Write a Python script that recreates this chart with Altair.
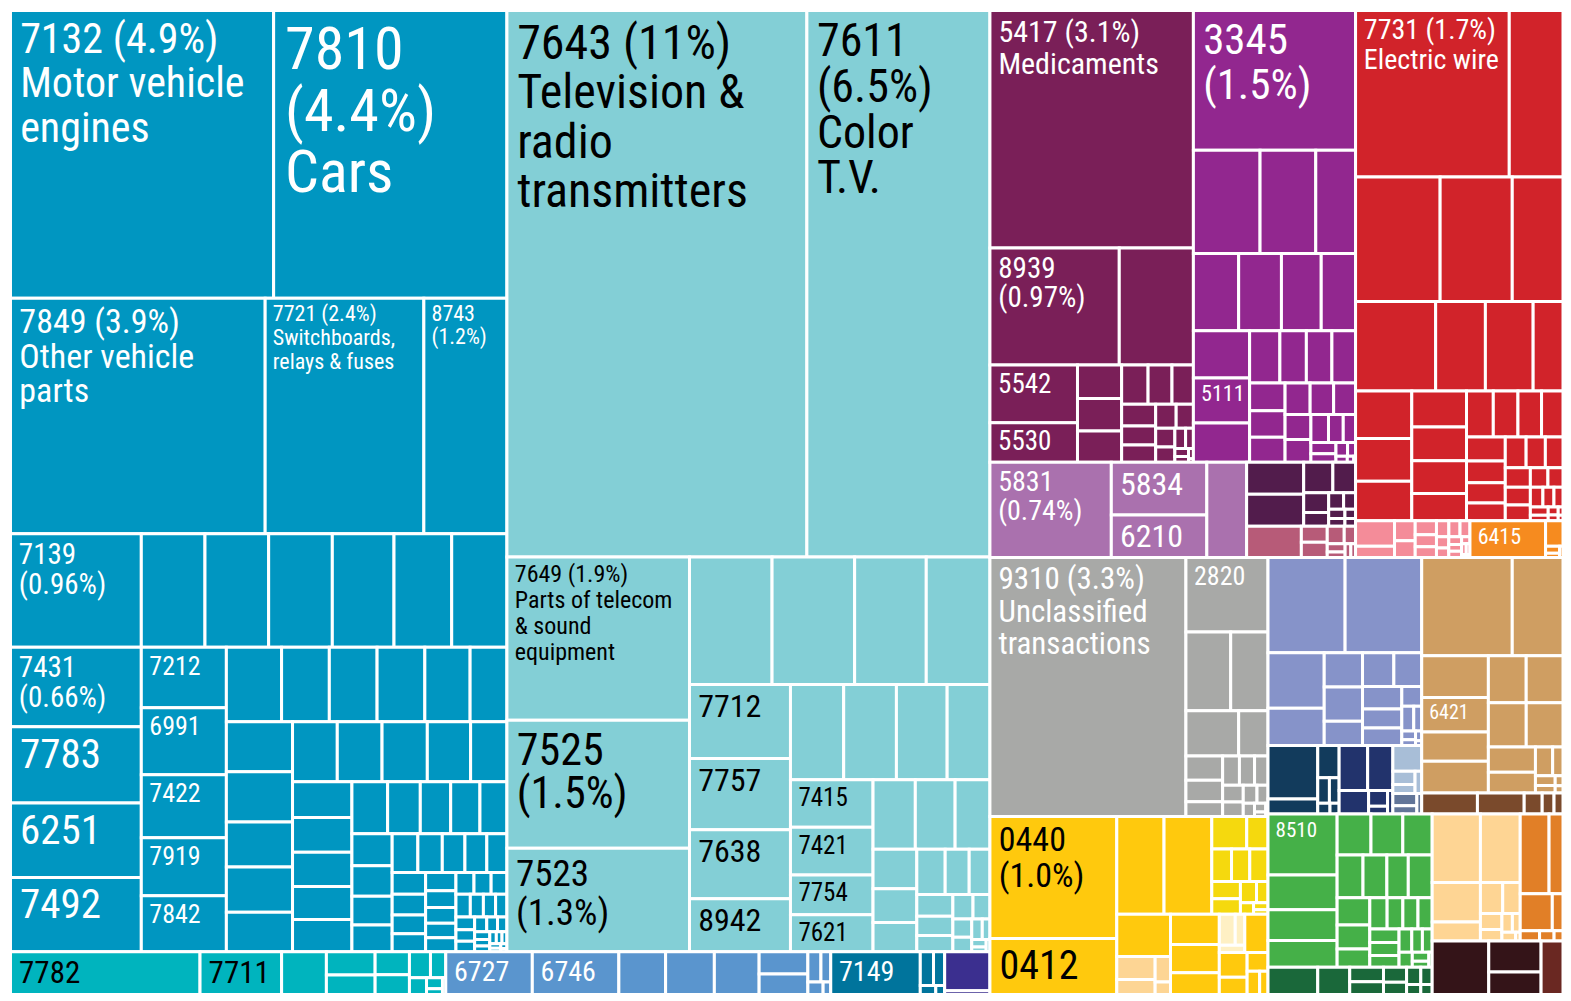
import altair as alt
import pandas as pd

FONT = "Roboto Condensed, DejaVu Sans Condensed, sans-serif"
WHITE, BLACK = "#FFFFFF", "#000000"

# ---------------- data (areas of each product) ----------------
# Machinery & transport (blue)
MACH_ROWS = [[76705, 68005], [60800, 37880, 19830], [15057, 7328, 7328, 7328, 7099, 6641, 6355],
             [10520, 10125, 9862, 9862], [5215, 5771, 5429, 5002, 4831],
             [4162, 3600, 3600, 3600, 3412, 2775], [3358, 3358, 3026, 3026, 2660],
             [2722, 2722, 2753, 2632, 2208]]
MACH_DIRS = "hhhvvhvh"
MACH_TAIL = [2150, 2100, 2050, 1988, 1950, 1880, 1720, 1600, 1540, 1420, 1310, 1240, 1180, 1090,
             1010, 960, 890, 860, 790, 740, 700, 640, 610, 560, 520, 480, 450, 430, 400, 380, 350,
             330, 300, 280, 260, 240, 220, 200, 180, 160, 140, 120, 100, 90, 80, 70, 60, 50, 40, 30, 20]
MACH_LABELS = [(0, "7132 (4.9%)\nMotor vehicle\nengines", 42, 45), (1, "7810\n(4.4%)\nCars", 60, 62),
               (2, "7849 (3.9%)\nOther vehicle\nparts", 34, 35),
               (3, "7721 (2.4%)\nSwitchboards,\nrelays & fuses", 22, 24), (4, "8743\n(1.2%)", 22, 23),
               (5, "7139\n(0.96%)", 29, 30), (12, "7431\n(0.66%)", 29, 30), (13, "7783", 41, 41),
               (14, "6251", 41, 41), (15, "7492", 41, 41), (16, "7212", 26, 26), (17, "6991", 26, 26),
               (18, "7422", 26, 26), (19, "7919", 26, 26), (20, "7842", 26, 26)]

# Electronics (light cyan)
ELEC_ROWS = [[166126, 101384], [30186, 23672, 19176], [10666, 10666, 9252, 8224],
             [7562, 7308, 7054, 5430], [5136, 5088, 4896, 4128], [3984, 3984, 3320, 3112],
             [2975, 2800, 2450], [1760, 1496, 1298]]
ELEC_DIRS = "hvhvhvhv"
ELEC_TAIL = [1300, 1100, 950, 800, 700, 600, 500, 420, 350, 280, 220, 160, 110, 70, 47]
ELEC_LABELS = [(0, "7643 (11%)\nTelevision &\nradio\ntransmitters", 48, 50),
               (1, "7611\n(6.5%)\nColor\nT.V.", 46, 46),
               (2, "7649 (1.9%)\nParts of telecom\n& sound\nequipment", 24, 26),
               (3, "7525\n(1.5%)", 44, 44), (4, "7523\n(1.3%)", 37, 40),
               (9, "7712", 32, 32), (10, "7757", 32, 32), (11, "7638", 32, 32), (12, "8942", 32, 32),
               (17, "7415", 25, 26), (18, "7421", 25, 26), (19, "7754", 25, 26), (20, "7621", 25, 26)]

# bottom strip
TEAL_ROWS, TEAL_DIRS = [[8287], [3567], [1958]], "vvv"
TEAL_TAIL = [1150, 981, 800, 700, 550, 400, 300, 180, 100, 58]
TEAL_LABELS = [(0, "7782", 31, 31), (1, "7711", 31, 31)]
STEEL_ROWS, STEEL_DIRS = [[3784], [3784], [2044], [2131], [1958]], "vvvvv"
STEEL_TAIL = [1100, 1031, 400, 300, 200, 100]
STEEL_LABELS = [(0, "6727", 28, 28), (1, "6746", 28, 28)]
DTEAL_ROWS, DTEAL_DIRS, DTEAL_TAIL = [[3915]], "v", [450, 380, 150, 86]
DTEAL_LABELS = [(0, "7149", 28, 28)]
INDIGO_ROWS, INDIGO_DIRS, INDIGO_TAIL = [[1790]], "h", [189]

# chemicals
MEDIC_ROWS, MEDIC_DIRS = [[48978], [15340, 8791], [5104, 3520]], "hhv"
MEDIC_TAIL = [1500, 1450, 1400, 1050, 950, 850, 750, 650, 600, 500, 420, 360, 300, 220, 160, 110, 80, 50, 17]
MEDIC_LABELS = [(0, "5417 (3.1%)\nMedicaments", 30, 33), (1, "8939\n(0.97%)", 29, 29),
                (3, "5542", 27, 27), (4, "5530", 27, 27)]
PURPLE_ROWS = [[22983], [6968, 5824, 4160], [3549, 3354, 3120, 2691], [2684, 2571, 2232]]
PURPLE_DIRS = "hhhv"
PURPLE_TAIL = [1600, 1400, 1350, 1250, 1000, 950, 900, 800, 750, 700, 650, 600, 500, 420, 350,
               280, 220, 160, 110, 70, 40, 11]
PURPLE_LABELS = [(0, "3345\n(1.5%)", 43, 46), (9, "5111", 22, 22)]
LAV_ROWS, LAV_DIRS, LAV_TAIL = [[11712], [5088, 4128]], "vv", [3840]
LAV_LABELS = [(0, "5831\n(0.74%)", 28, 29), (1, "5834", 32, 32), (2, "6210", 32, 32)]
DPURP_TAIL = [1850, 1850, 900, 700, 500, 350, 250, 200, 150, 130, 100, 83]
MAUVE_TAIL = [1733, 420, 400, 300, 200, 150, 100, 80, 66]

# metals (red) and neighbours
RED_ROWS = [[25956, 9072], [10668, 9099, 6400], [7245, 4500, 4320, 2700], [2712, 2430, 2260],
            [2008, 1870, 1815, 1512]]
RED_DIRS = "hhhvv"
RED_TAIL = [1250, 1150, 1100, 1000, 950, 850, 800, 700, 650, 600, 550, 500, 450, 400, 350, 300,
            250, 220, 180, 150, 100, 80, 60, 40, 27]
RED_LABELS = [(0, "7731 (1.7%)\nElectric wire", 28, 30)]
PINK_TAIL = [999, 450, 420, 350, 300, 260, 230, 200, 180, 160, 140, 120, 100, 90, 80, 60, 50, 40, 26]
ORANGE_TAIL = [2812, 450, 100, 60, 38]
ORANGE_LABELS = [(0, "6415", 22, 22)]

# unclassified (gray)
GRAY_ROWS, GRAY_DIRS = [[51417], [6188], [3578, 2981], [2412, 1342]], "vhhh"
GRAY_TAIL = [900, 800, 550, 500, 450, 400, 350, 300, 250, 200, 150, 100, 50, 30]
GRAY_LABELS = [(0, "9310 (3.3%)\nUnclassified\ntransactions", 31, 33), (1, "2820", 26, 26)]

# food (yellow shades)
YELLOW_HEAD = [[15683, 7268], [4679, 4728]]
LY_TAIL = [1150, 700, 650, 600, 600, 500, 450, 350, 250, 150, 100, 65]
PEACHY_TAIL = [900, 600, 400, 200]
PALE_TAIL = [500, 300, 188]
YELLOW_TAIL_A = [2300]
YELLOW_TAIL_B = [1500, 1400, 1100]
YELLOW_TAIL_C = [900, 700, 500, 400, 300, 200]
YELLOW_LABELS = [(0, "0440\n(1.0%)", 34, 36), (1, "0412", 40, 40)]

# misc manufactures, textiles, wood, agriculture
VIOLET_ROWS = [[7440, 7392], [3164, 2119], [1328, 1328, 943], [1071, 952]]
VIOLET_DIRS = "hvvh"
VIOLET_TAIL = [900, 750, 700, 400, 300, 200, 120, 80, 60, 30]
DNAVY_TAIL = [2700, 750, 700, 300, 250, 134, 100]
NAVY_TAIL = [1300, 1150, 700, 300, 150, 126]
LSTEEL_TAIL = [750, 300, 200, 150]
SLATE_TAIL = [300, 200, 101]
TAN_ROWS, TAN_DIRS = [[9009, 5049], [2814, 2345, 1977, 2144]], "hv"
TAN_TAIL = [1800, 1750, 1700, 1650, 1200, 1000, 500, 300, 200, 150, 80, 58]
TAN_LABELS = [(3, "6421", 20, 20)]
BROWN_TAIL = [1176, 987, 380, 250, 189]
BGREEN_ROWS = [[4274, 2432, 2155, 1877], [1411, 1328, 1224], [1118, 1032, 925, 1032]]
BGREEN_DIRS = "vhh"
BGREEN_TAIL = [900, 800, 600, 550, 500, 480, 450, 400, 380, 350, 300, 250, 230, 200, 150, 100, 50]
BGREEN_LABELS = [(0, "8510", 21, 21)]
DGREEN_TAIL = [1400, 900, 500, 450, 350, 300, 250, 200, 150, 120]
PEACH_ROWS, PEACH_DIRS = [[3347, 2760], [1940, 922]], "hv"
PEACH_TAIL = [700, 550, 350, 250, 200, 150, 120, 40]
ORANGE2_ROWS, ORANGE2_DIRS, ORANGE2_TAIL = [[2335, 1127]], "h", [1200, 400, 200, 150, 92]
MAROON_TAIL = [3100, 1650, 1217]
REDBROWN_TAIL = [1200]


# ---------------- structure ----------------
def grp(color, rows=(), dirs="", tail=(), labels=(), text=WHITE):
    return {"color": color, "rows": [list(r) for r in rows], "dirs": dirs, "tail": list(tail),
            "labels": {i: (t, s, lh) for i, t, s, lh in labels}, "text": text}


def split(d, *kids):
    return {"dir": d, "kids": list(kids)}


MACH = grp("#0096C1", MACH_ROWS, MACH_DIRS, MACH_TAIL, MACH_LABELS)
ELEC = grp("#83CFD6", ELEC_ROWS, ELEC_DIRS, ELEC_TAIL, ELEC_LABELS, BLACK)
TEAL = grp("#00B4BE", TEAL_ROWS, TEAL_DIRS, TEAL_TAIL, TEAL_LABELS, BLACK)
STEEL = grp("#5A95CE", STEEL_ROWS, STEEL_DIRS, STEEL_TAIL, STEEL_LABELS)
DTEAL = grp("#00749C", DTEAL_ROWS, DTEAL_DIRS, DTEAL_TAIL, DTEAL_LABELS)
INDIGO = grp("#3B2F8F", INDIGO_ROWS, INDIGO_DIRS, INDIGO_TAIL)
MEDIC = grp("#7A1F58", MEDIC_ROWS, MEDIC_DIRS, MEDIC_TAIL, MEDIC_LABELS)
PURPLE = grp("#92278F", PURPLE_ROWS, PURPLE_DIRS, PURPLE_TAIL, PURPLE_LABELS)
LAV = grp("#AA71AE", LAV_ROWS, LAV_DIRS, LAV_TAIL, LAV_LABELS)
DPURP = grp("#521C4C", tail=DPURP_TAIL)
MAUVE = grp("#B75B78", tail=MAUVE_TAIL)
RED = grp("#D1232A", RED_ROWS, RED_DIRS, RED_TAIL, RED_LABELS)
PINK = grp("#F48C99", tail=PINK_TAIL)
ORANGE = grp("#F68B1F", tail=ORANGE_TAIL, labels=ORANGE_LABELS)
GRAY = grp("#A8A9A7", GRAY_ROWS, GRAY_DIRS, GRAY_TAIL, GRAY_LABELS)
LY = grp("#F5D90E", tail=LY_TAIL)
PEACHY = grp("#FDD594", tail=PEACHY_TAIL)
PALE = grp("#FEF0C4", tail=PALE_TAIL)
YELLOW = grp("#FFC90D", [YELLOW_HEAD[0], YELLOW_HEAD[1] + [LY]], "vh",
             YELLOW_TAIL_A + [PEACHY] + YELLOW_TAIL_B + [PALE] + YELLOW_TAIL_C, YELLOW_LABELS, BLACK)
VIOLET = grp("#8693C9", VIOLET_ROWS, VIOLET_DIRS, VIOLET_TAIL)
DNAVY = grp("#123B5C", tail=DNAVY_TAIL)
NAVY = grp("#22336C", tail=NAVY_TAIL)
LSTEEL = grp("#A8BED7", tail=LSTEEL_TAIL)
SLATE = grp("#627598", tail=SLATE_TAIL)
TAN = grp("#CF9E62", TAN_ROWS, TAN_DIRS, TAN_TAIL, TAN_LABELS)
BROWN = grp("#7A4A2C", tail=BROWN_TAIL)
BGREEN = grp("#45B048", BGREEN_ROWS, BGREEN_DIRS, BGREEN_TAIL, BGREEN_LABELS)
DGREEN = grp("#1A683A", tail=DGREEN_TAIL)
PEACH = grp("#FED594", PEACH_ROWS, PEACH_DIRS, PEACH_TAIL)
ORANGE2 = grp("#E17F27", ORANGE2_ROWS, ORANGE2_DIRS, ORANGE2_TAIL)
MAROON = grp("#341418", tail=MAROON_TAIL + [grp("#6A2822", tail=REDBROWN_TAIL)])

ROOT = split("h",
             split("v", split("h", MACH, ELEC), split("h", TEAL, STEEL, DTEAL, INDIGO)),
             split("v",
                   split("h",
                         split("v", split("h", MEDIC, PURPLE),
                               split("h", LAV, split("v", DPURP, MAUVE))),
                         split("v", RED, split("h", PINK, ORANGE))),
                   split("h",
                         split("v", GRAY, YELLOW),
                         split("v",
                               split("h",
                                     split("v", VIOLET, split("h", DNAVY, NAVY, split("v", LSTEEL, SLATE))),
                                     split("v", TAN, BROWN)),
                               split("h",
                                     split("v", BGREEN, DGREEN),
                                     split("v", split("h", PEACH, ORANGE2), MAROON))))))

# ---------------- layout (d3-style squarified treemap) ----------------
PHI = (1 + 5 ** 0.5) / 2


def total(n):
    if isinstance(n, (int, float)):
        return float(n)
    if "kids" in n:
        return sum(total(k) for k in n["kids"])
    return sum(total(v) for r in n["rows"] for v in r) + sum(total(v) for v in n["tail"])


def squarify(items, x0, y0, x1, y1):
    out = []
    vals = [total(v) for v in items]
    value = sum(vals)
    i0, n = 0, len(vals)
    while i0 < n:
        dx, dy = x1 - x0, y1 - y0
        i1 = i0
        s = vals[i1]
        i1 += 1
        mn = mx = s
        alpha = max(dy / dx, dx / dy) / (value * PHI)
        beta = s * s * alpha
        min_ratio = max(mx / beta, beta / mn)
        while i1 < n:
            v = vals[i1]
            s += v
            mn, mx = min(mn, v), max(mx, v)
            beta = s * s * alpha
            nr = max(mx / beta, beta / mn)
            if nr > min_ratio:
                s -= v
                break
            min_ratio = nr
            i1 += 1
        if dx < dy:
            yb = y0 + dy * s / value
            xc = x0
            for k in range(i0, i1):
                w = dx * vals[k] / s
                out.append((items[k], (xc, y0, xc + w, yb)))
                xc += w
            y0 = yb
        else:
            xb = x0 + dx * s / value
            yc = y0
            for k in range(i0, i1):
                h = dy * vals[k] / s
                out.append((items[k], (x0, yc, xb, yc + h)))
                yc += h
            x0 = xb
        value -= s
        i0 = i1
    return out


def layout_group(g, x0, y0, x1, y1):
    remaining = total(g)
    out = []
    for row, d in zip(g["rows"], g["dirs"]):
        s = sum(total(v) for v in row)
        dx, dy = x1 - x0, y1 - y0
        if d == "h":
            yb = y0 + dy * s / remaining
            xc = x0
            for v in row:
                w = dx * total(v) / s
                out.append((v, (xc, y0, xc + w, yb)))
                xc += w
            y0 = yb
        else:
            xb = x0 + dx * s / remaining
            yc = y0
            for v in row:
                h = dy * total(v) / s
                out.append((v, (x0, yc, xb, yc + h)))
                yc += h
            x0 = xb
        remaining -= s
    if g["tail"]:
        out += squarify(g["tail"], x0, y0, x1, y1)
    return out


rects, texts = [], []


def place(n, x0, y0, x1, y1):
    if "kids" in n:
        tot = total(n)
        pos = x0 if n["dir"] == "h" else y0
        for k in n["kids"]:
            f = total(k) / tot
            if n["dir"] == "h":
                w = (x1 - x0) * f
                place(k, pos, y0, pos + w, y1)
                pos += w
            else:
                h = (y1 - y0) * f
                place(k, x0, pos, x1, pos + h)
                pos += h
        return
    for idx, (item, r) in enumerate(layout_group(n, x0, y0, x1, y1)):
        if isinstance(item, dict):
            place(item, *r)
        else:
            rects.append({"x0": r[0], "y0": r[1], "x1": r[2], "y1": r[3], "fill": n["color"]})
        if idx in n["labels"]:
            txt, size, lh = n["labels"][idx]
            tx = r[0] + 1.5 + 4 + 0.1 * size
            ty = r[1] + 2.5 + 0.16 * size
            for i, line in enumerate(txt.split("\n")):
                texts.append({"tx": tx, "ty": ty + i * lh, "line": line, "fs": size, "tc": n["text"]})


place(ROOT, 10.5, 10.5, 1571, 1003)

rdf = pd.DataFrame(rects)
tdf = pd.DataFrame(texts)

xs = alt.Scale(domain=[8, 1571], nice=False, zero=False)
ys = alt.Scale(domain=[8, 1001], nice=False, zero=False, reverse=True)

rect_layer = alt.Chart(rdf).mark_rect(stroke="white", strokeWidth=3, clip=True).encode(
    x=alt.X("x0:Q", scale=xs, axis=None), x2="x1:Q",
    y=alt.Y("y0:Q", scale=ys, axis=None), y2="y1:Q",
    fill=alt.Fill("fill:N", scale=None, legend=None),
)
text_layer = alt.Chart(tdf).mark_text(align="left", baseline="top", font=FONT, clip=True).encode(
    x=alt.X("tx:Q", scale=xs, axis=None),
    y=alt.Y("ty:Q", scale=ys, axis=None),
    text="line:N",
    size=alt.Size("fs:Q", scale=None, legend=None),
    color=alt.Color("tc:N", scale=None, legend=None),
)

chart = alt.layer(rect_layer, text_layer).properties(
    width=1555, height=985, padding=0, background="white",
    autosize=alt.AutoSizeParams(type="none"),
).configure_view(strokeWidth=0)

chart.save("out.html", embed_options={"renderer": "svg", "actions": False})
